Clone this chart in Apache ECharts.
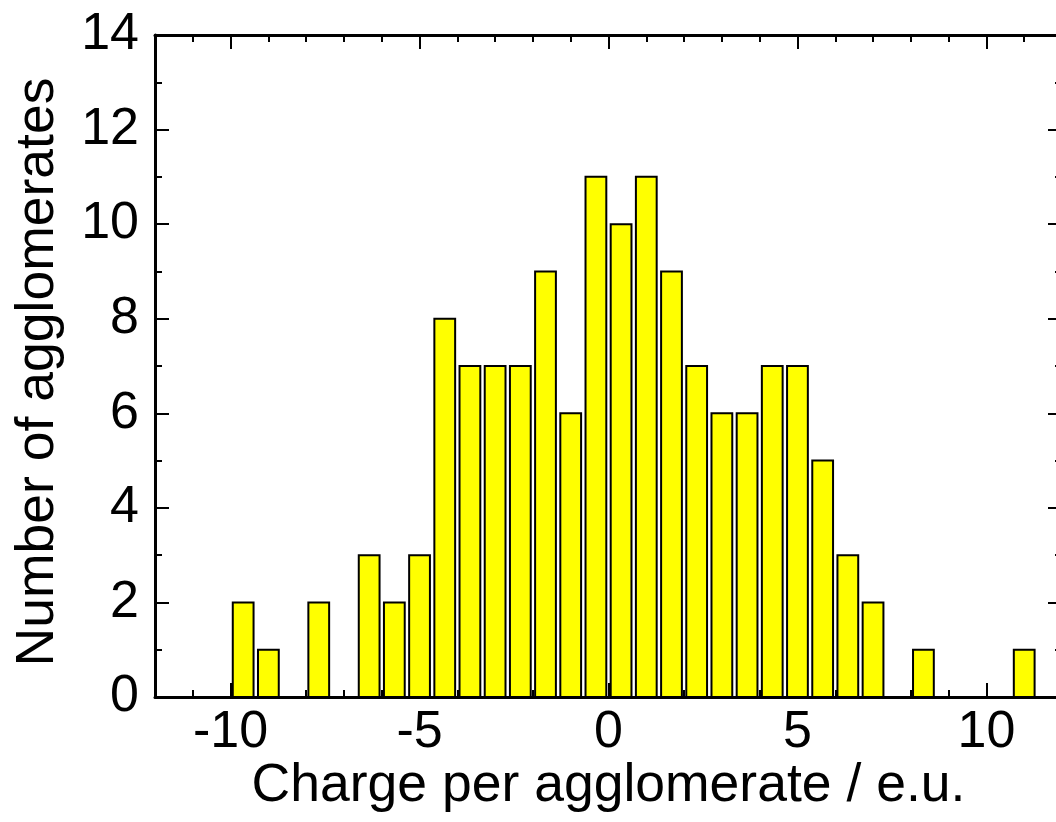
<!DOCTYPE html>
<html>
<head>
<meta charset="utf-8">
<script src="https://cdn.jsdelivr.net/npm/echarts@6/dist/echarts.min.js"></script>
<style>
  html, body { margin: 0; padding: 0; background: #fff; }
  #main { width: 1056px; height: 822px; }
</style>
</head>
<body>
<div id="main"></div>
<script>
// bin centres (e.u.) and counts
const binCenters = [-9.667, -9, -7.667, -6.333, -5.667, -5, -4.333, -3.667, -3, -2.333,
  -1.667, -1, -0.333, 0.333, 1, 1.667, 2.333, 3, 3.667, 4.333,
  5, 5.667, 6.333, 7, 8.333, 11];
const counts = [2, 1, 2, 3, 2, 3, 8, 7, 7, 7,
  9, 6, 11, 10, 11, 9, 7, 6, 6, 7,
  7, 5, 3, 2, 1, 1];
const xMajorTicks = [-10, -5, 0, 5, 10];

const font = "'Liberation Sans', Arial, sans-serif";
const barWidth = 0.55; // in e.u.

const chart = echarts.init(document.getElementById('main'));

const lineStyle = { color: '#000', width: 3 };
const minorTick = { show: true, inside: true, length: 7, lineStyle: { color: '#000', width: 2 } };
const majorTick = { show: true, inside: true, length: 14, lineStyle: { color: '#000', width: 2 } };

const xBase = { type: 'value', min: -12, max: 12, splitLine: { show: false }, gridIndex: 0 };

const yBase = {
  type: 'value', min: 0, max: 14, interval: 2,
  splitLine: { show: false },
  axisLine: { show: true, onZero: false, lineStyle: lineStyle },
  axisTick: majorTick,
  minorTick: { show: true, splitNumber: 2, length: 7, lineStyle: { color: '#000', width: 2 } },
};

chart.setOption({
  animation: false,
  grid: { left: 155, right: -6, top: 35, bottom: 125, outerBoundsMode: 'none', containLabel: false },
  xAxis: [
    Object.assign({}, xBase, {
      position: 'bottom', interval: 1,
      axisLine: { show: true, onZero: false, lineStyle: lineStyle },
      axisTick: minorTick,
      axisLabel: { show: false },
      name: 'Charge per agglomerate / e.u.',
      nameLocation: 'middle', nameGap: 62,
      nameTextStyle: { color: '#000', fontSize: 53.5, fontFamily: font },
    }),
    Object.assign({}, xBase, {
      position: 'bottom',
      axisLine: { show: false, onZero: false },
      axisTick: Object.assign({}, majorTick, { customValues: xMajorTicks }),
      axisLabel: { show: true, customValues: xMajorTicks, margin: 10, color: '#000', fontSize: 52, fontFamily: font },
    }),
    Object.assign({}, xBase, {
      position: 'top', interval: 1,
      axisLine: { show: true, onZero: false, lineStyle: lineStyle },
      axisTick: minorTick,
      axisLabel: { show: false },
    }),
    Object.assign({}, xBase, {
      position: 'top',
      axisLine: { show: false, onZero: false },
      axisTick: Object.assign({}, majorTick, { customValues: xMajorTicks }),
      axisLabel: { show: false },
    }),
  ],
  yAxis: [
    Object.assign({}, yBase, {
      position: 'left',
      axisLabel: { margin: 16, color: '#000', fontSize: 52, fontFamily: font },
      name: 'Number of agglomerates',
      nameLocation: 'middle', nameGap: 90,
      nameTextStyle: { color: '#000', fontSize: 53.5, fontFamily: font, padding: [0, 12, 0, 0] },
    }),
    Object.assign({}, yBase, {
      position: 'right',
      axisLabel: { show: false },
    }),
  ],
  series: [{
    type: 'custom',
    xAxisIndex: 0,
    yAxisIndex: 0,
    data: binCenters.map((c, i) => [c, counts[i]]),
    renderItem: function (params, api) {
      const c = api.value(0);
      const n = api.value(1);
      const p0 = api.coord([c - barWidth / 2, n]);
      const p1 = api.coord([c + barWidth / 2, 0]);
      return {
        type: 'rect',
        shape: { x: p0[0], y: p0[1], width: p1[0] - p0[0], height: p1[1] - p0[1] },
        style: { fill: '#ffff00', stroke: '#000', lineWidth: 2 },
      };
    },
  }],
});
</script>
</body>
</html>
